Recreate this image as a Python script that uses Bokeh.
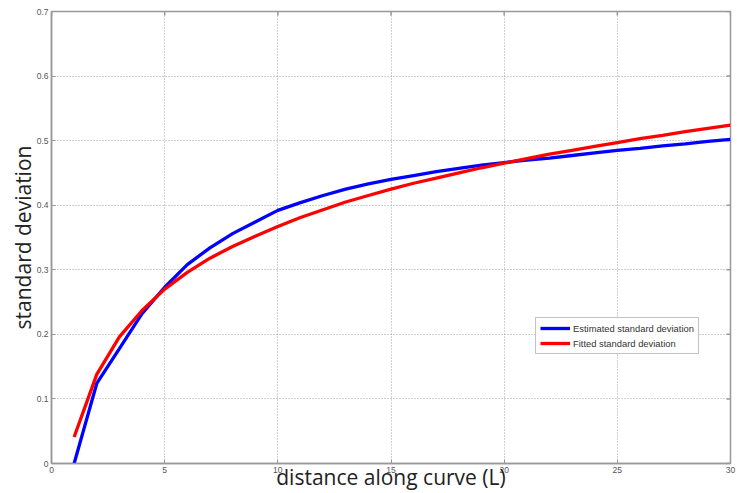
from bokeh.plotting import figure
from bokeh.models import Range1d, FixedTicker, Legend, LegendItem
from bokeh.embed import file_html
from bokeh.resources import INLINE

distance = list(range(1, 31))
estimated_sd = [0.000, 0.124, 0.178, 0.232, 0.273, 0.308, 0.334, 0.356, 0.374, 0.392,
                0.404, 0.415, 0.425, 0.433, 0.440, 0.446, 0.452, 0.457, 0.462, 0.466,
                0.470, 0.473, 0.477, 0.481, 0.485, 0.488, 0.492, 0.495, 0.499, 0.502]
fitted_sd = [0.041, 0.138, 0.196, 0.237, 0.270, 0.296, 0.318, 0.336, 0.352, 0.367,
             0.381, 0.393, 0.405, 0.415, 0.425, 0.434, 0.442, 0.450, 0.458, 0.465,
             0.472, 0.479, 0.485, 0.491, 0.497, 0.503, 0.508, 0.514, 0.519, 0.524]
x_ticks = [0, 5, 10, 15, 20, 25, 30]
y_ticks = [0, 0.1, 0.2, 0.3, 0.4, 0.5, 0.6, 0.7]
y_tick_labels = {0: "0", 0.1: "0.1", 0.2: "0.2", 0.3: "0.3", 0.4: "0.4",
                 0.5: "0.5", 0.6: "0.6", 0.7: "0.7"}

W, H = 737, 493
BL, BR, BT, BB = 51, 7, 11, 29
x0, x1 = 0, 30
y0, y1 = 0, 0.7

p = figure(width=W, height=H, output_backend="svg", toolbar_location=None,
           x_range=Range1d(x0, x1), y_range=Range1d(y0, y1),
           min_border_left=BL, min_border_right=BR, min_border_top=BT, min_border_bottom=BB,
           background_fill_color="white", border_fill_color="white")
p.outline_line_color = "#999999"
p.outline_line_width = 1.5

axis_col = "#999999"
for ax in [p.xaxis[0], p.yaxis[0]]:
    ax.axis_line_color = axis_col
    ax.axis_line_width = 1.5
    ax.major_tick_line_color = axis_col
    ax.major_tick_in = 4
    ax.major_tick_out = 0
    ax.minor_tick_line_color = None
    ax.major_label_text_font = "Liberation Sans"
    ax.major_label_text_font_size = "8.5px"
    ax.major_label_text_color = "#555555"
    ax.major_label_standoff = 3
    ax.axis_label_text_font = "Open Sans"
    ax.axis_label_text_font_style = "normal"
    ax.axis_label_text_color = "#222222"
    ax.axis_label_text_font_size = "21px"

p.xaxis.ticker = FixedTicker(ticks=x_ticks)
p.yaxis.ticker = FixedTicker(ticks=y_ticks)
p.yaxis.major_label_overrides = y_tick_labels
p.xaxis.axis_label = "distance along curve (L)"
p.yaxis.axis_label = "standard deviation"
p.xaxis.axis_label_standoff = -13
p.yaxis.axis_label_standoff = -3

# inward ticks on the top and right edges of the box
fw = W - BL - BR
fh = H - BT - BB
dx = 4 * (x1 - x0) / fw
dy = 4 * (y1 - y0) / fh
p.segment(x0=x_ticks, y0=[y1] * len(x_ticks), x1=x_ticks, y1=[y1 - dy] * len(x_ticks),
          line_color=axis_col, line_width=1.5)
p.segment(x0=[x1] * len(y_ticks), y0=y_ticks, x1=[x1 - dx] * len(y_ticks), y1=y_ticks,
          line_color=axis_col, line_width=1.5)

p.xgrid.ticker = FixedTicker(ticks=x_ticks)
p.ygrid.ticker = FixedTicker(ticks=y_ticks)
for g in [p.xgrid[0], p.ygrid[0]]:
    g.grid_line_color = "#a0a0a0"
    g.grid_line_dash = "1 2"
    g.grid_line_width = 1

r1 = p.line(distance, estimated_sd, line_color="#0000ff", line_width=3.3)
r2 = p.line(distance, fitted_sd, line_color="#ff0000", line_width=3.3)

legend = Legend(items=[LegendItem(label="Estimated standard deviation", renderers=[r1]),
                       LegendItem(label="Fitted standard deviation", renderers=[r2])],
                location=(484, 109))
legend.margin = 0
legend.padding = 4
legend.spacing = 3
legend.glyph_width = 30
legend.glyph_height = 12
legend.label_height = 12
legend.label_standoff = 3
legend.label_text_font = "Liberation Sans"
legend.label_text_font_size = "9.4px"
legend.label_text_color = "#333333"
legend.border_line_color = "#888888"
legend.border_line_width = 1
legend.background_fill_color = "white"
legend.background_fill_alpha = 1
p.add_layout(legend, "center")

open("out.html", "w").write(file_html(p, INLINE))
